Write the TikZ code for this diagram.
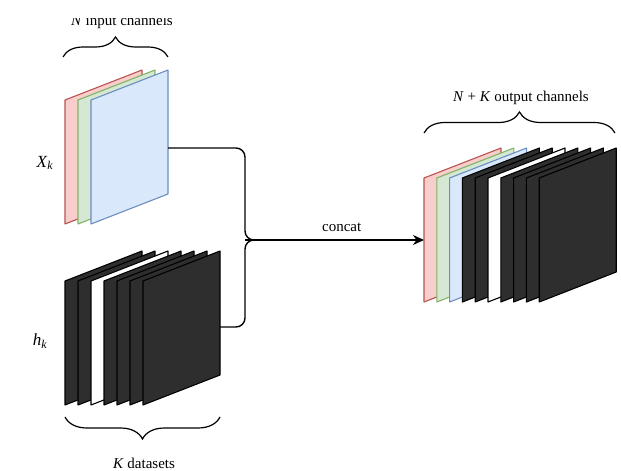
\documentclass[tikz,border=0pt]{standalone}
\usepackage{fontspec}
\setmainfont{Liberation Serif}
\usepackage{tikz}
\usetikzlibrary{arrows.meta,decorations.pathreplacing}

\definecolor{redfill}{HTML}{F8CECC}
\definecolor{redline}{HTML}{B85450}
\definecolor{greenfill}{HTML}{D5E8D4}
\definecolor{greenline}{HTML}{82B366}
\definecolor{bluefill}{HTML}{DAE8FC}
\definecolor{blueline}{HTML}{6C8EBF}
\definecolor{darkfill}{HTML}{2E2E2E}

% one channel sheet: x and y of its upper left corner, fill, line
\newcommand{\chsheet}[4]{%
  \draw[sheet,fill=#3,draw=#4] (#1,#2) -- ++(77,-30) -- ++(0,124) -- ++(-77,30) -- cycle;}

\begin{document}
\begin{tikzpicture}[x=1pt,y=-1pt]
    \tikzset{sheet/.style = {line width=1.1pt,line join=round}}
    \tikzset{wire/.style = {line width=1.4pt,rounded corners=9pt}}
    \tikzset{chbrace/.style = {line width=1.2pt,decorate,decoration={brace,amplitude=#1}}}
    \tikzset{lbl/.style = {font=\fontsize{15}{17}\selectfont,inner sep=0pt}}
    \tikzset{varlbl/.style = {font=\fontsize{17}{19}\selectfont,inner sep=0pt}}
    \useasboundingbox (0,0) rectangle (621,471);

    % input channels
    \foreach \f/\d [count=\i from 0] in {redfill/redline,greenfill/greenline,bluefill/blueline}
      \chsheet{65+13*\i}{100}{\f}{\d};
    % datasets
    \foreach \f/\d [count=\i from 0] in {darkfill/black,darkfill/black,white/black,darkfill/black,darkfill/black,darkfill/black,darkfill/black}
      \chsheet{65+13*\i}{281}{\f}{\d};
    % output channels
    \foreach \f/\d [count=\i from 0] in {redfill/redline,greenfill/greenline,bluefill/blueline,darkfill/black,darkfill/black,white/black,darkfill/black,darkfill/black,darkfill/black,darkfill/black}
      \chsheet{424+12.8*\i}{178}{\f}{\d};

    % connectors
    \coordinate (xk) at (168,148);
    \coordinate (hk) at (220,327);
    \coordinate (join) at (245,240);
    \coordinate (jointail) at (262,240);
    \coordinate (outin) at (424,240);
    \draw[wire] (xk) -| (join) -- (jointail);
    \draw[wire] (hk) -| (join) -- (jointail);
    \path[-{Stealth[length=11pt,width=10pt,inset=3.5pt]},line width=1.4pt] (join) edge
    node[lbl,above=8pt,pos=0.54] (concatlbl) {concat} (outin);

    % braces
    \draw[chbrace=20pt] (63,57) -- (168,57);
    \draw[chbrace=21pt] (424,133) -- (615,133);
    \draw[chbrace=22pt] (220,417) -- (65,417);

    % labels
    \begin{scope}
      \clip (0,18.5) rectangle (621,471);
      \node[lbl,anchor=base] (inlbl) at (122,25) {\textit{N} input channels};
    \end{scope}
    \node[lbl,anchor=base] (outlbl) at (521,101) {\textit{N} + \textit{K} output channels};
    \node[lbl,anchor=base] (klbl) at (144,468) {\textit{K} datasets};
    \node[varlbl] (xklbl) at (45,163) {\textit{X}\textsubscript{\textit{k}}};
    \node[varlbl] (hklbl) at (40,341) {\textit{h}\textsubscript{\textit{k}}};

    \end{tikzpicture}
\end{document}
